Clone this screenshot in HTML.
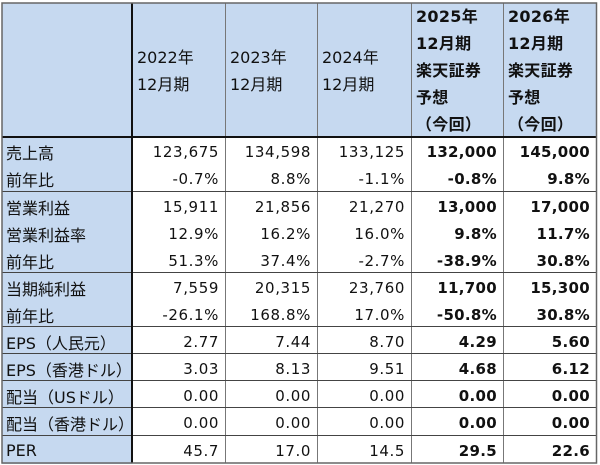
<!DOCTYPE html>
<html><head><meta charset="utf-8"><style>
body{margin:0;width:600px;height:465px;background:#fff;overflow:hidden;position:relative}
table{position:absolute;left:2px;top:3px;width:594px;border-collapse:collapse;table-layout:fixed;font-family:"DejaVu Sans","Noto Sans CJK JP",sans-serif;font-size:15px;color:#111}
td{padding:0;white-space:nowrap;overflow:hidden}
td.l{background:#c6d9f0;text-align:left;padding-left:4px;font-size:16px}
td.n{text-align:right;letter-spacing:0.6px;padding-right:6px}
td.b{font-weight:bold;letter-spacing:0.3px}
tr.h td{background:#c6d9f0;vertical-align:middle;line-height:27px;text-align:left;padding-left:5px;font-size:16px}
svg{position:absolute;left:0;top:0}
</style></head><body>
<table>
<colgroup><col style="width:130px"><col style="width:93px"><col style="width:92px"><col style="width:94px"><col style="width:92px"><col style="width:93px"></colgroup>
<tr class="h" style="height:134px"><td></td><td>2022年<br>12月期</td><td>2023年<br>12月期</td><td>2024年<br>12月期</td><td class="b">2025年<br>12月期<br>楽天証券<br>予想<br>（今回）</td><td class="b">2026年<br>12月期<br>楽天証券<br>予想<br>（今回）</td></tr>
<tr style="height:27px"><td class="l">売上高</td><td class="n">123,675</td><td class="n">134,598</td><td class="n">133,125</td><td class="n b">132,000</td><td class="n b">145,000</td></tr>
<tr style="height:28px"><td class="l">前年比</td><td class="n">-0.7%</td><td class="n">8.8%</td><td class="n">-1.1%</td><td class="n b">-0.8%</td><td class="n b">9.8%</td></tr>
<tr style="height:27px"><td class="l">営業利益</td><td class="n">15,911</td><td class="n">21,856</td><td class="n">21,270</td><td class="n b">13,000</td><td class="n b">17,000</td></tr>
<tr style="height:27px"><td class="l">営業利益率</td><td class="n">12.9%</td><td class="n">16.2%</td><td class="n">16.0%</td><td class="n b">9.8%</td><td class="n b">11.7%</td></tr>
<tr style="height:27px"><td class="l">前年比</td><td class="n">51.3%</td><td class="n">37.4%</td><td class="n">-2.7%</td><td class="n b">-38.9%</td><td class="n b">30.8%</td></tr>
<tr style="height:27px"><td class="l">当期純利益</td><td class="n">7,559</td><td class="n">20,315</td><td class="n">23,760</td><td class="n b">11,700</td><td class="n b">15,300</td></tr>
<tr style="height:27px"><td class="l">前年比</td><td class="n">-26.1%</td><td class="n">168.8%</td><td class="n">17.0%</td><td class="n b">-50.8%</td><td class="n b">30.8%</td></tr>
<tr style="height:27px"><td class="l">EPS（人民元）</td><td class="n">2.77</td><td class="n">7.44</td><td class="n">8.70</td><td class="n b">4.29</td><td class="n b">5.60</td></tr>
<tr style="height:27px"><td class="l">EPS（香港ドル）</td><td class="n">3.03</td><td class="n">8.13</td><td class="n">9.51</td><td class="n b">4.68</td><td class="n b">6.12</td></tr>
<tr style="height:27px"><td class="l">配当（USドル）</td><td class="n">0.00</td><td class="n">0.00</td><td class="n">0.00</td><td class="n b">0.00</td><td class="n b">0.00</td></tr>
<tr style="height:28px"><td class="l">配当（香港ドル）</td><td class="n">0.00</td><td class="n">0.00</td><td class="n">0.00</td><td class="n b">0.00</td><td class="n b">0.00</td></tr>
<tr style="height:27px"><td class="l">PER</td><td class="n">45.7</td><td class="n">17.0</td><td class="n">14.5</td><td class="n b">29.5</td><td class="n b">22.6</td></tr>
</table>
<svg width="600" height="465">
<g stroke="#777" stroke-width="1" fill="none">
<line x1="225.5" y1="3" x2="225.5" y2="463"/>
<line x1="317.5" y1="3" x2="317.5" y2="463"/>
<line x1="411.5" y1="3" x2="411.5" y2="463"/>
<line x1="503.5" y1="3" x2="503.5" y2="463"/>
</g>
<g stroke="#444" stroke-width="1">
<line x1="2" y1="191.5" x2="597" y2="191.5"/>
<line x1="2" y1="272.5" x2="597" y2="272.5"/>
<line x1="2" y1="326.5" x2="597" y2="326.5"/>
<line x1="2" y1="353.5" x2="597" y2="353.5"/>
<line x1="2" y1="380.5" x2="597" y2="380.5"/>
<line x1="2" y1="407.5" x2="597" y2="407.5"/>
<line x1="2" y1="435.5" x2="597" y2="435.5"/>
</g>
<line x1="2" y1="137" x2="597" y2="137" stroke="#111" stroke-width="2"/>
<line x1="132" y1="3" x2="132" y2="463" stroke="#111" stroke-width="2"/>
<rect x="2" y="3" width="594.5" height="460" fill="none" stroke="#666" stroke-width="1.5"/>
</svg>
</body></html>
